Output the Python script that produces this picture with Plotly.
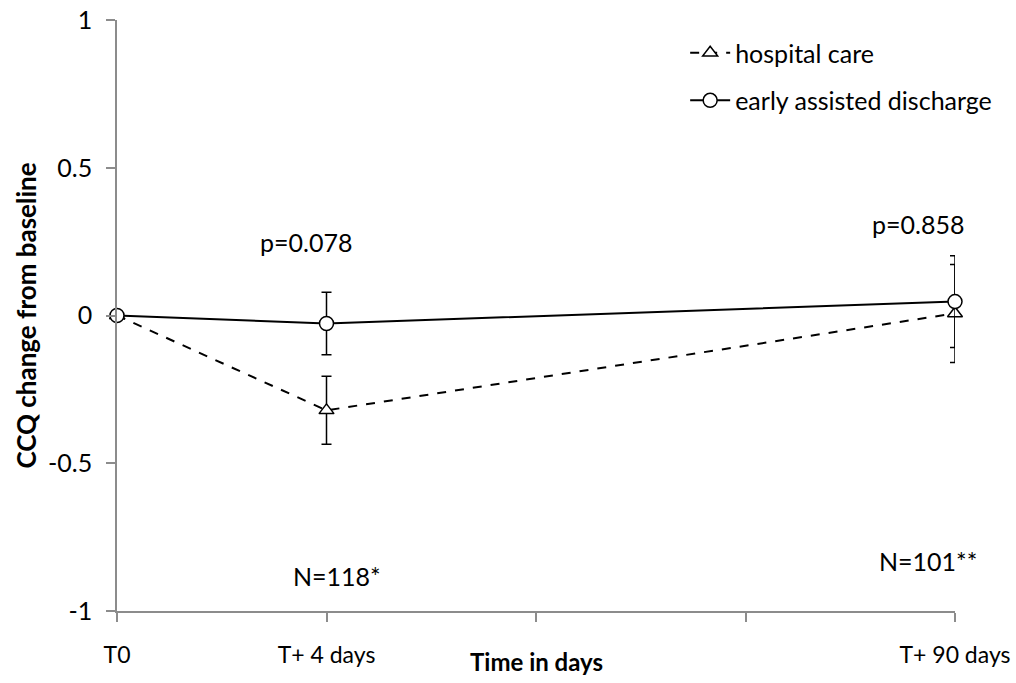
import plotly.graph_objects as go

x_pos = [0, 1, 4]
tick_vals = [0, 1, 2, 3, 4]
tick_text = ["T0", "T+ 4 days", "", "", "T+ 90 days"]

hospital = [0, -0.321, 0.007]
hospital_err = [0, 0.115, 0.166]
early = [0, -0.027, 0.047]
early_err = [0, 0.106, 0.155]

p_labels = ["p=0.078", "p=0.858"]
p_x = [1, 4]
p_y = [0.25, 0.311]
p_shift = [-21, -37]
n_labels = ["N=118*", "N=101**"]
n_y = [-0.882, -0.831]
n_shift = [10, -27]

FONT = "Lato"
FS = 25

fig = go.Figure()
fig.add_trace(go.Scatter(
    x=x_pos, y=hospital, name="hospital care", mode="lines+markers", legendgroup="h",
    line=dict(color="black", width=2, dash="dash"), cliponaxis=False,
    marker=dict(symbol="triangle-up", size=13, color="white", line=dict(color="black", width=1.5)),
    error_y=dict(type="data", array=hospital_err, color="black", thickness=1.5, width=5),
))
fig.add_trace(go.Scatter(
    x=x_pos, y=early, name="early assisted discharge", mode="lines+markers", legendgroup="e",
    line=dict(color="black", width=2), cliponaxis=False,
    marker=dict(symbol="circle", size=14, color="white", line=dict(color="black", width=1.5)),
    error_y=dict(type="data", array=early_err, color="black", thickness=1.5, width=5),
))

for i, t in enumerate(p_labels):
    fig.add_annotation(x=p_x[i], y=p_y[i], text=t, showarrow=False,
                       xanchor="center", yanchor="middle", xshift=p_shift[i],
                       font=dict(family=FONT, size=FS, color="black"))
for i, t in enumerate(n_labels):
    fig.add_annotation(x=p_x[i], y=n_y[i], text=t, showarrow=False,
                       xanchor="center", yanchor="middle", xshift=n_shift[i],
                       font=dict(family=FONT, size=FS, color="black"))

fig.add_annotation(x=0.5, xref="paper", y=-0.086, yref="paper", text="<b>Time in days</b>",
                   showarrow=False, xanchor="center", yanchor="middle",
                   font=dict(family=FONT, size=24, color="black"))

fig.update_layout(
    width=1016, height=683,
    margin=dict(l=117, r=61, t=20, b=72, autoexpand=False),
    plot_bgcolor="white", paper_bgcolor="white",
    font=dict(family=FONT, size=FS, color="black"),
    showlegend=True,
    legend=dict(x=0.678, y=0.983, xanchor="left", yanchor="top",
                bgcolor="rgba(0,0,0,0)", font=dict(family=FONT, size=FS),
                tracegroupgap=12, itemwidth=40),
    xaxis=dict(range=[0, 4], tickvals=tick_vals, ticktext=tick_text, automargin=False,
               showgrid=False, zeroline=False, showline=True, linecolor="#8c8c8c", linewidth=1.5,
               ticks="outside", ticklen=9, tickcolor="#8c8c8c", tickwidth=1.5,
               ticklabeloverflow="allow",
               ticklabelstandoff=14, tickfont=dict(family=FONT, size=23)),
    yaxis=dict(range=[-1, 1], tickvals=[-1, -0.5, 0, 0.5, 1], ticktext=["-1", "-0.5", "0", "0.5", "1"],
               automargin=False, ticklabeloverflow="allow",
               showgrid=False, zeroline=False, showline=True, linecolor="#8c8c8c", linewidth=1.5,
               ticks="outside", ticklen=9, tickcolor="#8c8c8c", tickwidth=1.5,
               ticklabelstandoff=9, tickfont=dict(family=FONT, size=FS),
               title=dict(text="<b>CCQ change from baseline</b>", font=dict(family=FONT, size=26), standoff=4)),
)

fig.write_html("out.html", config={"displayModeBar": False},
               post_script="document.body.style.margin='0';document.body.style.overflow='hidden';")
